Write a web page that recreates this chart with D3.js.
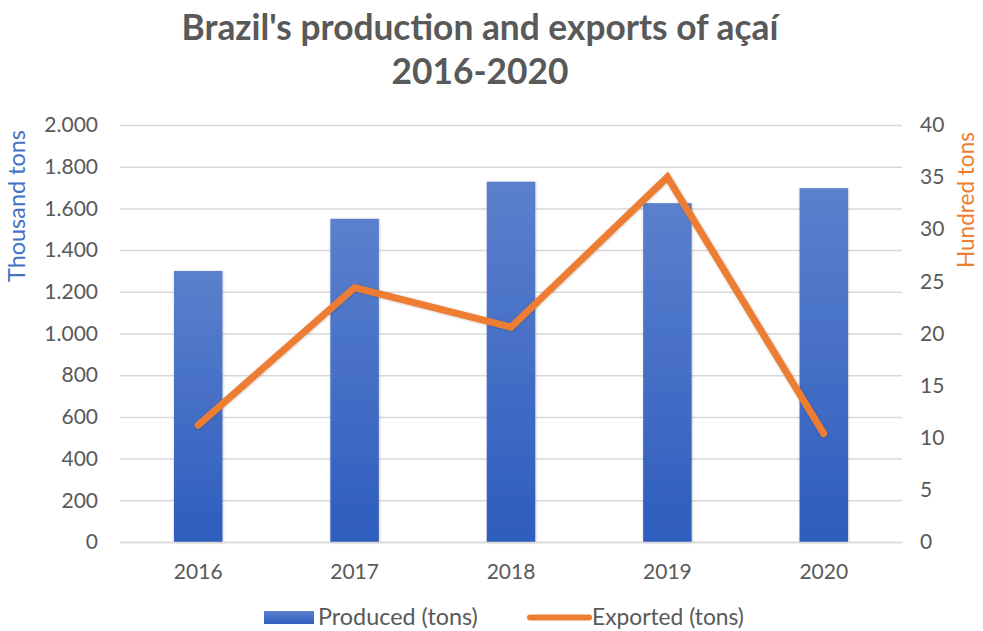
<!DOCTYPE html>
<html>
<head>
<meta charset="utf-8">
<script src="https://cdn.jsdelivr.net/npm/d3@7"></script>
<style>
  html, body { margin: 0; padding: 0; background: #fff; }
  svg { display: block; font-family: Lato, "Open Sans", sans-serif; }
</style>
</head>
<body>
<svg id="chart" width="983" height="631"></svg>
<script>
// Açaí production (thousand tons) and exports (hundred tons), 2016-2020
const years = ["2016", "2017", "2018", "2019", "2020"];
const produced = [1300, 1550, 1728, 1625, 1697];
const exported = [11.2, 24.4, 20.6, 35.0, 10.4];
const leftTicks = [0, 200, 400, 600, 800, 1000, 1200, 1400, 1600, 1800, 2000];
const rightTicks = [0, 5, 10, 15, 20, 25, 30, 35, 40];
const titleLines = ["Brazil's production and exports of açaí", "2016-2020"];
const legendLabels = ["Produced (tons)", "Exported (tons)"];

const svg = d3.select("#chart");
const margin = { left: 120, right: 81, top: 125, bottom: 89 };
const W = 983, H = 631;
const x0 = margin.left, x1 = W - margin.right;
const y0 = H - margin.bottom, y1 = margin.top;

const x = d3.scaleBand().domain(years).range([x0, x1]).paddingInner(0.69).paddingOuter(0.345);
const yL = d3.scaleLinear().domain([0, 2000]).range([y0, y1]);
const yR = d3.scaleLinear().domain([0, 40]).range([y0, y1]);

const fmtL = d => d3.format(",")(d).replace(/,/g, ".");
const grey = "#595959";
const tickSize = 21;

// Scale a text element's font so that its run length equals `w` pixels
function fitWidth(sel, w) {
  sel.each(function () {
    const fs = parseFloat(this.getAttribute("font-size"));
    const len = this.getComputedTextLength();
    if (len > 0) this.setAttribute("font-size", (fs * w / len).toFixed(2));
  });
}

// bar gradient
const defs = svg.append("defs");
const grad = defs.append("linearGradient").attr("id", "barGrad")
  .attr("x1", 0).attr("y1", 0).attr("x2", 0).attr("y2", 1);
grad.append("stop").attr("offset", "0%").attr("stop-color", "#5B80CD");
grad.append("stop").attr("offset", "100%").attr("stop-color", "#2E5DBE");
const shadow = defs.append("filter").attr("id", "barShadow")
  .attr("x", "-20%").attr("y", "-5%").attr("width", "140%").attr("height", "110%");
shadow.append("feDropShadow").attr("dx", 0.5).attr("dy", 0.5).attr("stdDeviation", 1.2)
  .attr("flood-color", "#000").attr("flood-opacity", 0.25);

// Title
const title = svg.append("g").selectAll("text").data(titleLines).join("text")
  .attr("x", 480)
  .attr("y", (d, i) => 40 + i * 44)
  .attr("text-anchor", "middle")
  .attr("font-size", 30).attr("font-weight", "bold")
  .attr("fill", grey)
  .text(d => d);
fitWidth(title.filter((d, i) => i === 0), 597);
title.filter((d, i) => i === 1).attr("font-size", title.filter((d, i) => i === 0).attr("font-size"));

// Gridlines from the left axis ticks
svg.append("g").attr("class", "grid")
  .attr("transform", `translate(${x0},0)`)
  .call(d3.axisLeft(yL).tickValues(leftTicks).tickSize(-(x1 - x0)).tickFormat(""))
  .call(g => g.select(".domain").remove())
  .call(g => g.selectAll("line").attr("stroke", "#d9d9d9").attr("stroke-width", 1.5));

// Left axis labels
svg.append("g")
  .attr("transform", `translate(${x0 - 19},0)`)
  .call(d3.axisLeft(yL).tickValues(leftTicks).tickSize(0).tickFormat(fmtL))
  .call(g => g.select(".domain").remove())
  .call(g => g.selectAll("text").attr("font-size", tickSize).attr("fill", grey)
    .attr("font-family", "Lato, sans-serif"));

// Right axis labels
svg.append("g")
  .attr("transform", `translate(${x1 + 15},0)`)
  .call(d3.axisRight(yR).tickValues(rightTicks).tickSize(0))
  .call(g => g.select(".domain").remove())
  .call(g => g.selectAll("text").attr("font-size", tickSize).attr("fill", grey)
    .attr("font-family", "Lato, sans-serif"));

// Bars
svg.append("g").selectAll("rect").data(years).join("rect")
  .attr("x", d => x(d))
  .attr("width", x.bandwidth())
  .attr("y", (d, i) => yL(produced[i]))
  .attr("height", (d, i) => y0 - yL(produced[i]))
  .attr("fill", "url(#barGrad)")
  .attr("filter", "url(#barShadow)");

// Bottom axis
svg.append("g")
  .attr("transform", `translate(0,${y0})`)
  .call(d3.axisBottom(x).tickSize(0).tickPadding(22))
  .call(g => g.select(".domain").attr("stroke", "#d9d9d9").attr("stroke-width", 1.5))
  .call(g => g.selectAll("text").attr("font-size", tickSize).attr("fill", grey)
    .attr("font-family", "Lato, sans-serif"));

// Export line
const line = d3.line()
  .x((d, i) => x(years[i]) + x.bandwidth() / 2)
  .y(d => yR(d));
svg.append("path").datum(exported)
  .attr("d", line)
  .attr("fill", "none")
  .attr("stroke", "#ED7D31")
  .attr("stroke-width", 7)
  .attr("stroke-linecap", "round")
  .attr("stroke-linejoin", "miter")
  .attr("filter", "url(#barShadow)");

// Axis titles
const tL = svg.append("text")
  .attr("transform", `translate(25,206) rotate(-90)`)
  .attr("text-anchor", "middle")
  .attr("font-size", 18).attr("fill", "#4472C4")
  .text("Thousand tons");
fitWidth(tL, 152);
const tR = svg.append("text")
  .attr("transform", `translate(974,200) rotate(-90)`)
  .attr("text-anchor", "middle")
  .attr("font-size", 18).attr("fill", "#ED7D31")
  .text("Hundred tons");
fitWidth(tR, 136);

// Legend
const lg = svg.append("g");
lg.append("rect").attr("x", 264).attr("y", 611).attr("width", 50).attr("height", 13)
  .attr("fill", "url(#barGrad)");
const lt1 = lg.append("text").attr("x", 318).attr("y", 624.5).attr("font-size", 18).attr("fill", grey)
  .text(legendLabels[0]);
fitWidth(lt1, 160);
lg.append("line").attr("x1", 530).attr("x2", 589).attr("y1", 617.5).attr("y2", 617.5)
  .attr("stroke", "#ED7D31").attr("stroke-width", 6).attr("stroke-linecap", "round");
const lt2 = lg.append("text").attr("x", 592).attr("y", 624.5).attr("font-size", 18).attr("fill", grey)
  .text(legendLabels[1]);
fitWidth(lt2, 152);
</script>
</body>
</html>
